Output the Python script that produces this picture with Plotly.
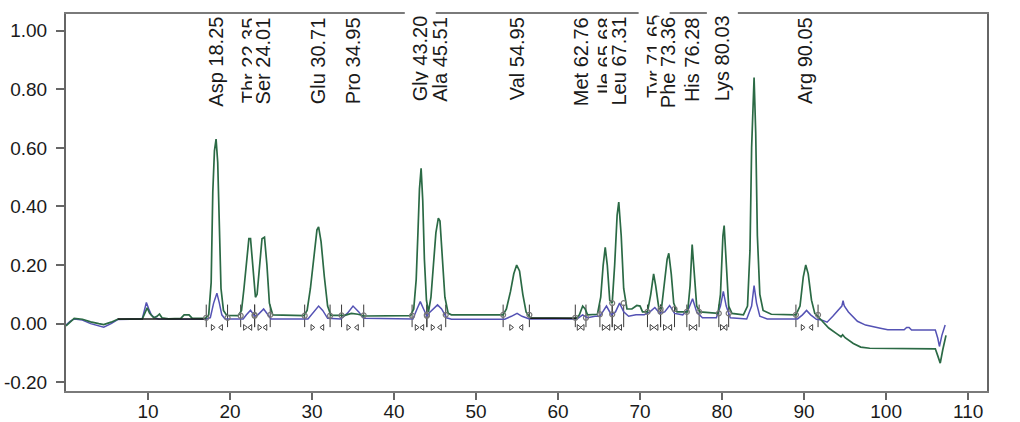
import plotly.graph_objects as go

# ---------------- data ----------------
green_x = [0.0, 0.5, 1.0, 2.0, 3.0, 4.0, 4.6, 5.5, 6.3, 9.3, 9.7, 9.9, 10.2, 10.7, 11.1, 11.4, 11.7, 12.5,
           14.0, 14.4, 15.0, 15.4, 17.0, 17.4, 17.7, 17.9, 18.1, 18.3, 18.5, 18.7, 18.9, 19.2, 19.6,
           21.0, 21.4, 21.7, 22.0, 22.3, 22.5, 22.8, 23.1, 23.3, 23.6, 23.9, 24.2, 24.5, 24.8, 25.2,
           29.0, 29.4, 29.8, 30.2, 30.6, 30.8, 31.1, 31.5, 31.9, 32.3, 34.0, 34.8, 35.6, 36.4,
           42.0, 42.4, 42.7, 42.9, 43.1, 43.3, 43.5, 43.7, 43.95, 44.2, 44.5, 44.8, 45.1, 45.4, 45.6,
           45.9, 46.2, 46.6, 47.0, 53.3, 53.7, 54.2, 54.6, 54.95, 55.3, 55.7, 56.1, 56.6,
           62.2, 62.6, 63.0, 63.3, 63.6, 64.8, 65.2, 65.5, 65.75, 66.0, 66.3, 66.6, 66.9, 67.2, 67.4,
           67.7, 68.0, 68.4, 69.0, 69.6, 70.0, 70.3, 70.9, 71.3, 71.65, 71.9, 72.3, 72.6, 72.9, 73.3,
           73.5, 73.8, 74.1, 74.5, 75.8, 76.1, 76.35, 76.6, 76.9, 77.3, 79.5, 79.8, 80.1, 80.25, 80.5,
           80.8, 81.2, 82.6, 83.1, 83.4, 83.6, 83.8, 83.9, 84.1, 84.3, 84.6, 85.0, 86.0,
           89.0, 89.5, 89.9, 90.2, 90.5, 90.9, 91.3, 92.0, 93.0, 94.0, 94.5, 94.7, 95.0, 96.0, 96.9,
           98.0, 106.0, 106.3, 106.6, 106.9, 107.3]
green_y = [-0.008, 0.005, 0.018, 0.015, 0.006, 0.0, -0.003, 0.005, 0.015, 0.016, 0.04, 0.054, 0.035, 0.02,
           0.025, 0.033, 0.02, 0.016, 0.018, 0.03, 0.03, 0.018, 0.018, 0.03, 0.14, 0.45, 0.59, 0.63, 0.55,
           0.30, 0.12, 0.045, 0.028, 0.027, 0.045, 0.12, 0.22, 0.29, 0.29, 0.18, 0.09, 0.10, 0.20, 0.29,
           0.295, 0.20, 0.07, 0.03, 0.027, 0.045, 0.12, 0.23, 0.32, 0.33, 0.28, 0.16, 0.06, 0.028,
           0.028, 0.035, 0.032, 0.026, 0.027, 0.05, 0.15, 0.30, 0.46, 0.53, 0.42, 0.22, 0.08, 0.04, 0.09,
           0.20, 0.31, 0.36, 0.35, 0.22, 0.09, 0.035, 0.03, 0.03, 0.05, 0.11, 0.17, 0.20, 0.18, 0.10,
           0.04, 0.02, 0.018, 0.03, 0.06, 0.05, 0.03, 0.032, 0.09, 0.20, 0.26, 0.20, 0.08, 0.07, 0.20,
           0.37, 0.415, 0.30, 0.12, 0.05, 0.05, 0.062, 0.06, 0.04, 0.04, 0.10, 0.17, 0.13, 0.05, 0.05,
           0.13, 0.22, 0.24, 0.17, 0.07, 0.04, 0.04, 0.13, 0.27, 0.17, 0.06, 0.04, 0.035, 0.10, 0.30,
           0.335, 0.20, 0.06, 0.035, 0.03, 0.06, 0.25, 0.60, 0.79, 0.84, 0.65, 0.30, 0.10, 0.045, 0.032,
           0.03, 0.06, 0.16, 0.20, 0.17, 0.08, 0.035, 0.015, -0.015, -0.035, -0.045, -0.038, -0.048,
           -0.068, -0.080, -0.084, -0.086, -0.11, -0.135, -0.09, -0.04]

blue_x = [0.0, 0.5, 1.0, 2.0, 3.0, 4.0, 4.6, 5.5, 6.3, 9.3, 9.6, 9.8, 10.1, 10.4, 10.8, 11.3, 17.0, 17.6,
          18.0, 18.4, 18.7, 19.0, 19.4, 21.6, 22.0, 22.5, 23.0, 23.4, 24.1, 24.6, 25.0, 29.5, 30.2,
          30.8, 31.3, 31.9, 33.5, 34.3, 35.0, 35.7, 36.3, 42.3, 42.8, 43.2, 43.6, 44.0, 44.4, 45.3,
          45.8, 46.4, 47.0, 53.5, 54.3, 55.0, 55.6, 56.5, 62.3, 63.0, 63.6, 64.5, 65.1, 65.9, 66.5,
          67.0, 67.5, 68.0, 68.6, 69.5, 70.5, 71.2, 71.8, 72.4, 73.0, 73.6, 74.2, 75.2, 75.9, 76.4,
          76.9, 77.6, 79.3, 79.8, 80.15, 80.5, 81.0, 83.0, 83.6, 83.9, 84.2, 84.6, 85.5, 89.2, 89.8,
          90.3, 90.8, 91.5, 92.2, 92.8, 93.5, 94.2, 94.6, 94.75, 94.9, 95.4, 96.5, 97.5, 98.5, 99.3,
          100.2, 102.2, 102.5, 102.8, 103.1, 106.0, 106.3, 106.5, 106.8, 107.2]
blue_y = [-0.005, 0.008, 0.016, 0.012, 0.0, -0.008, -0.012, 0.0, 0.014, 0.016, 0.05, 0.072, 0.05, 0.03,
          0.02, 0.016, 0.015, 0.02, 0.07, 0.104, 0.07, 0.03, 0.016, 0.016, 0.03, 0.046, 0.025, 0.03,
          0.05, 0.03, 0.016, 0.016, 0.04, 0.06, 0.045, 0.018, 0.016, 0.035, 0.06, 0.04, 0.018, 0.016,
          0.05, 0.075, 0.05, 0.025, 0.04, 0.064, 0.05, 0.02, 0.015, 0.015, 0.025, 0.035, 0.025, 0.016,
          0.016, 0.03, 0.02, 0.025, 0.025, 0.06, 0.03, 0.04, 0.07, 0.04, 0.025, 0.03, 0.03, 0.04,
          0.055, 0.035, 0.04, 0.062, 0.035, 0.03, 0.05, 0.085, 0.04, 0.02, 0.02, 0.06, 0.11, 0.06,
          0.02, 0.016, 0.06, 0.13, 0.07, 0.025, 0.016, 0.016, 0.03, 0.045, 0.03, 0.015, 0.012, 0.005,
          0.025, 0.045, 0.06, 0.078, 0.06, 0.04, 0.008, -0.005, -0.012, -0.016, -0.021, -0.021,
          -0.013, -0.013, -0.022, -0.022, -0.05, -0.078, -0.04, -0.005]

# dark baseline stretches (None separates segments)
base_x = [6.3, 17.0, None, 56.6, 62.2]
base_y = [0.016, 0.016, None, 0.018, 0.018]

# peak labels
peak_names = ["Asp", "Thr", "Ser", "Glu", "Pro", "Gly", "Ala", "Val", "Met", "Ile", "Leu",
              "Tyr", "Phe", "His", "Lys", "Arg"]
peak_times = [18.25, 22.35, 24.01, 30.71, 34.95, 43.20, 45.51, 54.95, 62.76, 65.68, 67.31,
              71.65, 73.36, 76.28, 80.03, 90.05]

# integration windows of the peaks
win_start = [17.1, 21.3, 23.0, 29.1, 33.6, 42.2, 44.0, 53.3, 62.1, 65.1, 66.6, 70.9, 72.5, 75.7, 79.6, 89.0]
win_end   = [19.7, 23.0, 24.9, 32.2, 36.3, 44.0, 46.3, 56.5, 63.4, 66.6, 68.0, 72.5, 74.2, 77.2, 80.8, 91.7]
win_base  = [0.02, 0.027, 0.03, 0.027, 0.028, 0.027, 0.03, 0.03, 0.02, 0.032, 0.07, 0.04, 0.05, 0.04, 0.035, 0.03]

x_ticks = [10, 20, 30, 40, 50, 60, 70, 80, 90, 100, 110]
y_ticks = [-0.2, 0.0, 0.2, 0.4, 0.6, 0.8, 1.0]
y_tick_text = ["-0.20", "0.00", "0.20", "0.40", "0.60", "0.80", "1.00"]

GREEN = "#2b6a45"
BLUE = "#5452b4"
FONT = "Liberation Sans, Arial, sans-serif"

fig = go.Figure()

# integration brackets
bx, by = [], []
for s, e in zip(win_start, win_end):
    bx += [s, s, None, e, e, None]
    by += [0.065, -0.012, None, 0.065, -0.012, None]
fig.add_trace(go.Scatter(x=bx, y=by, mode="lines", line=dict(color="#3a3a3a", width=1),
                         hoverinfo="skip", showlegend=False))
# arrows pointing inward to the peak centre
ax_r = [s + (e - s) * 0.3 for s, e in zip(win_start, win_end)]
ax_l = [e - (e - s) * 0.3 for s, e in zip(win_start, win_end)]
fig.add_trace(go.Scatter(x=ax_r, y=[-0.013] * len(ax_r), mode="markers",
                         marker=dict(symbol="triangle-right-open", size=5, color="#444", line=dict(width=1)),
                         hoverinfo="skip", showlegend=False))
fig.add_trace(go.Scatter(x=ax_l, y=[-0.013] * len(ax_l), mode="markers",
                         marker=dict(symbol="triangle-left-open", size=5, color="#444", line=dict(width=1)),
                         hoverinfo="skip", showlegend=False))

fig.add_trace(go.Scatter(x=blue_x, y=blue_y, mode="lines", line=dict(color=BLUE, width=1.5),
                         hoverinfo="skip", showlegend=False))
fig.add_trace(go.Scatter(x=green_x, y=green_y, mode="lines", line=dict(color=GREEN, width=1.7),
                         hoverinfo="skip", showlegend=False))
fig.add_trace(go.Scatter(x=base_x, y=base_y, mode="lines", line=dict(color="#1a1a1a", width=1.5),
                         hoverinfo="skip", showlegend=False))
# boundary circles
fig.add_trace(go.Scatter(x=win_start + win_end, y=win_base + win_base, mode="markers",
                         marker=dict(symbol="circle-open", size=5, color="#777", line=dict(width=1.2)),
                         hoverinfo="skip", showlegend=False))

wide_gap = {"Gly", "Tyr", "Lys"}
for name, t in zip(peak_names, peak_times):
    big = name in wide_gap
    fig.add_annotation(x=t, xref="x", y=1, yref="paper", yanchor="top", xanchor="center",
                       text=f"{name} {t:.2f}", textangle=-90, showarrow=False,
                       font=dict(family=FONT, size=20, color="#1a1a1a"),
                       bgcolor="white", borderpad=4 if big else 0,
                       yshift=4 if big else -2)

fig.update_layout(
    width=1020, height=422,
    margin=dict(l=66, r=33, t=14, b=31),
    paper_bgcolor="white", plot_bgcolor="white",
    font=dict(family=FONT, size=19, color="#1a1a1a"),
    xaxis=dict(range=[0, 112.3], tickvals=x_ticks, ticks="outside", ticklen=7, tickwidth=1.5,
               tickcolor="#666", showline=True, linecolor="#7a7a7a", linewidth=2, mirror=True,
               showgrid=False, zeroline=False, automargin=False, ticklabelstandoff=-5),
    yaxis=dict(range=[-0.23, 1.057], tickvals=y_ticks, ticktext=y_tick_text, ticks="outside",
               ticklen=8, tickwidth=1.5, tickcolor="#666", showline=True, linecolor="#666",
               linewidth=2, mirror=True, showgrid=False, zeroline=False, automargin=False,
               ticklabelstandoff=5),
)

# remove the default 8px body margin so the figure fills the window exactly
fig.write_html("out.html", config={"displayModeBar": False},
               post_script="document.body.style.margin='0';")
